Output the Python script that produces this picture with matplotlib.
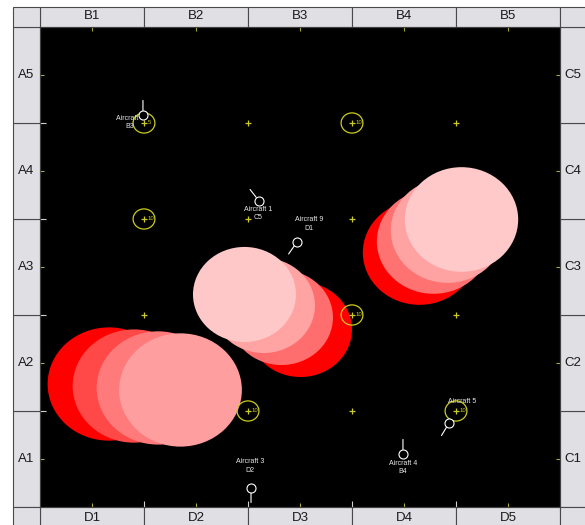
import matplotlib
matplotlib.use('Agg')
import matplotlib.pyplot as plt
from matplotlib.patches import Ellipse, Rectangle
from matplotlib.transforms import offset_copy
import numpy as np

plt.rcParams['font.family'] = ['Liberation Sans', 'DejaVu Sans']

# ---------------- data ----------------
top_labels = ['B1', 'B2', 'B3', 'B4', 'B5']
bottom_labels = ['D1', 'D2', 'D3', 'D4', 'D5']
left_labels = ['A1', 'A2', 'A3', 'A4', 'A5']      # bottom -> top
right_labels = ['C1', 'C2', 'C3', 'C4', 'C5']     # bottom -> top

grid_x = [1, 2, 3, 4]
grid_y = [1, 2, 3, 4]

ring_x = [1, 3, 1, 3, 2, 4]
ring_y = [4, 4, 3, 2, 1, 1]
ring_text = ['5', '10', '10', '10', '10', '10']

cluster1_x = [0.663, 0.904, 1.135, 1.351]
cluster1_y = [1.281, 1.260, 1.240, 1.219]
cluster1_r = 0.59
cluster1_colors = ['#ff0000', '#ff4848', '#ff7a7a', '#ff9e9e']

cluster2_x = [2.505, 2.322, 2.149, 1.966]
cluster2_y = [1.849, 1.974, 2.099, 2.214]
cluster2_r = 0.495
cluster2_colors = ['#ff0000', '#ff6e6e', '#ffa3a3', '#ffc8c8']

cluster3_x = [3.649, 3.784, 3.918, 4.053]
cluster3_y = [2.651, 2.766, 2.880, 2.995]
cluster3_r = 0.545
cluster3_colors = ['#ff0000', '#ff7272', '#ffa2a2', '#ffc9c9']

aircraft_names = ['Aircraft 1', 'Aircraft 2', 'Aircraft 3', 'Aircraft 4', 'Aircraft 5', 'Aircraft 9']
aircraft_codes = ['C5', 'B3', 'D2', 'B4', '', 'D1']
aircraft_x = [2.106, 0.990, 2.029, 3.490, 3.933, 2.471]
aircraft_y = [3.188, 4.083, 0.198, 0.552, 0.875, 2.760]
aircraft_heading = [128, 90, 270, 90, 239, 235]
label_x = [2.096, 0.865, 2.019, 3.490, 4.058, 2.587]
label_y = [3.104, 4.052, 0.469, 0.458, 1.094, 2.990]

# ---------------- figure ----------------
W, H = 585, 525
fig = plt.figure(figsize=(W / 100, H / 100), dpi=100)
fig.patch.set_facecolor('white')
ax = fig.add_axes([40 / W, 18 / H, 520 / W, 480 / H])
ax.set_facecolor('black')
ax.set_xlim(0, 5)
ax.set_ylim(0, 5)

YEL = '#cccc22'

# grid crosses (under the big circles)
gx, gy = np.meshgrid(grid_x, grid_y)
gx = gx.ravel(); gy = gy.ravel()
ring_set = set(zip(ring_x, ring_y))
plain = [(a, b) for a, b in zip(gx, gy) if (a, b) not in ring_set]
ax.plot([p[0] for p in plain], [p[1] for p in plain], '+', color=YEL, ms=5, mew=0.9, zorder=1)

# big circles
for cx, cy, r, cols in [(cluster1_x, cluster1_y, cluster1_r, cluster1_colors),
                        (cluster2_x, cluster2_y, cluster2_r, cluster2_colors),
                        (cluster3_x, cluster3_y, cluster3_r, cluster3_colors)]:
    for x, y, c in zip(cx, cy, cols):
        ax.add_patch(Ellipse((x, y), 2 * r, 2 * r, facecolor=c, edgecolor='none', zorder=2))

# rings with values
ax.plot(ring_x, ring_y, '+', color=YEL, ms=5, mew=0.9, zorder=4)
for x, y, t in zip(ring_x, ring_y, ring_text):
    ax.add_patch(Ellipse((x, y), 0.21, 0.21, facecolor='none', edgecolor=YEL, lw=0.9, zorder=4))
    ax.annotate(t, (x, y), xytext=(2.4, 0), textcoords='offset points', color=YEL,
                fontsize=4.3, va='center', ha='left', zorder=4)

# aircraft
for name, code, x, y, h, lx, ly in zip(aircraft_names, aircraft_codes, aircraft_x, aircraft_y,
                                        aircraft_heading, label_x, label_y):
    ax.text(lx, ly, name, color='#e8e8e8', fontsize=5, ha='center', va='center', zorder=5)
    if code:
        ax.annotate(code, (lx, ly), xytext=(0, -6), textcoords='offset points', color='#e8e8e8',
                    fontsize=5, ha='center', va='center', zorder=5)
    c, s = np.cos(np.radians(h)), np.sin(np.radians(h))
    r0, r1 = 3.2, 10.5
    ax.annotate('', xy=(x, y), xycoords=offset_copy(ax.transData, fig=fig, x=r0 * c, y=r0 * s, units='points'),
                xytext=(x, y), textcoords=offset_copy(ax.transData, fig=fig, x=r1 * c, y=r1 * s, units='points'),
                arrowprops=dict(arrowstyle='-', color='white', lw=0.8, shrinkA=0, shrinkB=0), zorder=6)
    ax.plot([x], [y], 'o', ms=6.5, mfc='black', mec='white', mew=0.8, zorder=6)

# ticks
ax.set_xticks([i + 0.5 for i in range(5)])
ax.set_yticks([i + 0.5 for i in range(5)])
ax.set_xticks(grid_x, minor=True)
ax.set_yticks(grid_y, minor=True)
ax.tick_params(which='major', direction='in', length=3, width=0.8, color='#a8a840',
               top=True, right=True, bottom=True, left=True,
               labelbottom=False, labelleft=False)
ax.tick_params(which='minor', direction='in', length=4, width=0.8, color='#d0d0d0',
               bottom=True, left=True, top=False, right=False)
for sp in ax.spines.values():
    sp.set_color('#404040')
    sp.set_linewidth(0.8)

# header cells
CELL = '#dfdfe4'
EDGE = '#4a4a4a'
hdr_h = 20 / 96
left_w = 27 / 104
right_w = 0.35
bot_h = 0.3

def cell(x0, y0, w, h):
    ax.add_patch(Rectangle((x0, y0), w, h, facecolor=CELL, edgecolor=EDGE, lw=0.8, clip_on=False, zorder=0.5))

for i in range(5):
    cell(i, 5, 1, hdr_h)
    cell(i, -bot_h, 1, bot_h)
    cell(-left_w, i, left_w, 1)
    cell(5, i, right_w, 1)
for x0, w in [(-left_w, left_w), (5, right_w)]:
    cell(x0, 5, w, hdr_h)
    cell(x0, -bot_h, w, bot_h)

fs = 9.5
for i in range(5):
    ax.text(i + 0.5, 5 + 11 / 96, top_labels[i], ha='center', va='center', fontsize=fs, color='#1a1a1a', clip_on=False)
    ax.text(i + 0.5, -11 / 96, bottom_labels[i], ha='center', va='center', fontsize=fs, color='#1a1a1a', clip_on=False)
    ax.text(-left_w / 2, i + 0.5, left_labels[i], ha='center', va='center', fontsize=fs, color='#1a1a1a', clip_on=False)
    ax.text(5 + 13 / 104, i + 0.5, right_labels[i], ha='center', va='center', fontsize=fs, color='#1a1a1a', clip_on=False)

fig.savefig('out.png', dpi=100, facecolor='white')
